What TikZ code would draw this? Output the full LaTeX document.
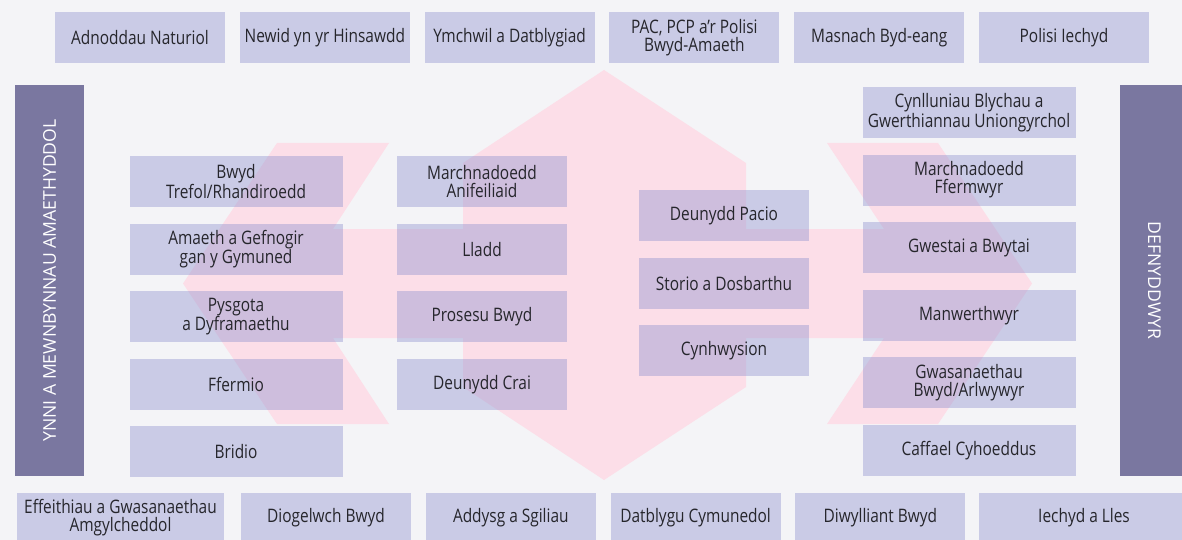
\documentclass[tikz,border=0pt]{standalone}
\usepackage{fontspec}
\setmainfont{Open Sans}
\newfontfamily\boxfont{Open Sans}[FakeStretch=0.83]
\usetikzlibrary{positioning}
\definecolor{bgcol}{RGB}{244,244,247}
\definecolor{pinkcol}{RGB}{252,222,232}
\definecolor{boxcol}{RGB}{139,142,205}
\definecolor{barcol}{RGB}{122,119,160}
\definecolor{txtcol}{RGB}{38,38,44}
\tikzset{
  box/.style={fill=boxcol,fill opacity=0.4,text opacity=1,text=txtcol,
    minimum width=170pt,minimum height=51pt,inner sep=0pt,align=center,
    font=\boxfont\fontsize{18.6}{18}\selectfont},
  widebox/.style={box,minimum width=213pt},
  bar/.style={fill=barcol,text=white,minimum width=391pt,minimum height=69pt,
    inner sep=0pt,font=\fontsize{17.6}{20}\selectfont}
}

\begin{document}
\begin{tikzpicture}[x=1pt,y=-1pt,node distance=67.6pt and 184.8pt,on grid]
  \useasboundingbox (0,0) rectangle (1182,540);
  \fill[bgcol] (0,0) rectangle (1182,540);
  \fill[pinkcol] (604,70) -- (746,163) -- (746,229) -- (884,229) -- (827,143)
    -- (938,143) -- (1032,283.5) -- (938,424) -- (827,424) -- (884,338)
    -- (746,338) -- (746,387) -- (604,480) -- (463,387) -- (463,338)
    -- (333,338) -- (389,424) -- (277,424) -- (183,283.5) -- (277,143)
    -- (389,143) -- (333,229) -- (463,229) -- (463,163) -- cycle;

  \node[box]     (adnoddau)    at (140,38)           {Adnoddau Naturiol};
  \node[box]     (newid)       [right=of adnoddau]   {Newid yn yr Hinsawdd};
  \node[box]     (ymchwil)     [right=of newid]      {Ymchwil a Datblygiad};
  \node[box]     (pac)         [right=of ymchwil]    {PAC, PCP a’r Polisi\\Bwyd-Amaeth};
  \node[box]     (masnach)     [right=of pac]        {Masnach Byd-eang};
  \node[box]     (polisi)      [right=of masnach]    {Polisi Iechyd};

  \node[bar,rotate=90]  (ynni)       at (49.5,280.5)   {YNNI A MEWNBYNNAU AMAETHYDDOL};
  \node[bar,rotate=-90] (defnyddwyr) at (1154.5,280.5) {DEFNYDDWYR};

  \node[widebox] (bwyd)        at (236,181.5)        {Bwyd\\Trefol/Rhandiroedd};
  \node[widebox] (amaeth)      [below=of bwyd]       {Amaeth a Gefnogir\\gan y Gymuned};
  \node[widebox] (pysgota)     [below=of amaeth]     {Pysgota\\a Dyframaethu};
  \node[widebox] (ffermio)     [below=of pysgota]    {Ffermio};
  \node[widebox] (bridio)      [below=of ffermio]    {Bridio};

  \node[box]     (anifeiliaid) at (482,181.5)        {Marchnadoedd\\Anifeiliaid};
  \node[box]     (lladd)       [below=of anifeiliaid] {Lladd};
  \node[box]     (prosesu)     [below=of lladd]      {Prosesu Bwyd};
  \node[box]     (crai)        [below=of prosesu]    {Deunydd Crai};

  \node[box]     (pacio)       at (724,215.5)        {Deunydd Pacio};
  \node[box]     (storio)      [below=of pacio]      {Storio a Dosbarthu};
  \node[box]     (cynhwysion)  [below=of storio]     {Cynhwysion};

  \node[widebox] (cynlluniau)  at (969,112.5)        {Cynlluniau Blychau a\\Gwerthiannau Uniongyrchol};
  \node[widebox] (ffermwyr)    [below=of cynlluniau] {Marchnadoedd\\Ffermwyr};
  \node[widebox] (gwestai)     [below=of ffermwyr]   {Gwestai a Bwytai};
  \node[widebox] (manwerthwyr) [below=of gwestai]    {Manwerthwyr};
  \node[widebox] (arlwywyr)    [below=of manwerthwyr] {Gwasanaethau\\Bwyd/Arlwywyr};
  \node[widebox] (caffael)     [below=of arlwywyr]   {Caffael Cyhoeddus};

  \node[box,minimum width=207pt] (effeithiau) at (120.5,518) {Effeithiau a Gwasanaethau\\Amgylcheddol};
  \node[box]     (diogelwch)   at (326,518)          {Diogelwch Bwyd};
  \node[box]     (addysg)      [right=of diogelwch]  {Addysg a Sgiliau};
  \node[box]     (datblygu)    [right=of addysg]     {Datblygu Cymunedol};
  \node[box]     (diwylliant)  [right=of datblygu]   {Diwylliant Bwyd};
  \node[box,minimum width=210pt] (iechyd) at (1084,518) {Iechyd a Lles};
\end{tikzpicture}
\end{document}
